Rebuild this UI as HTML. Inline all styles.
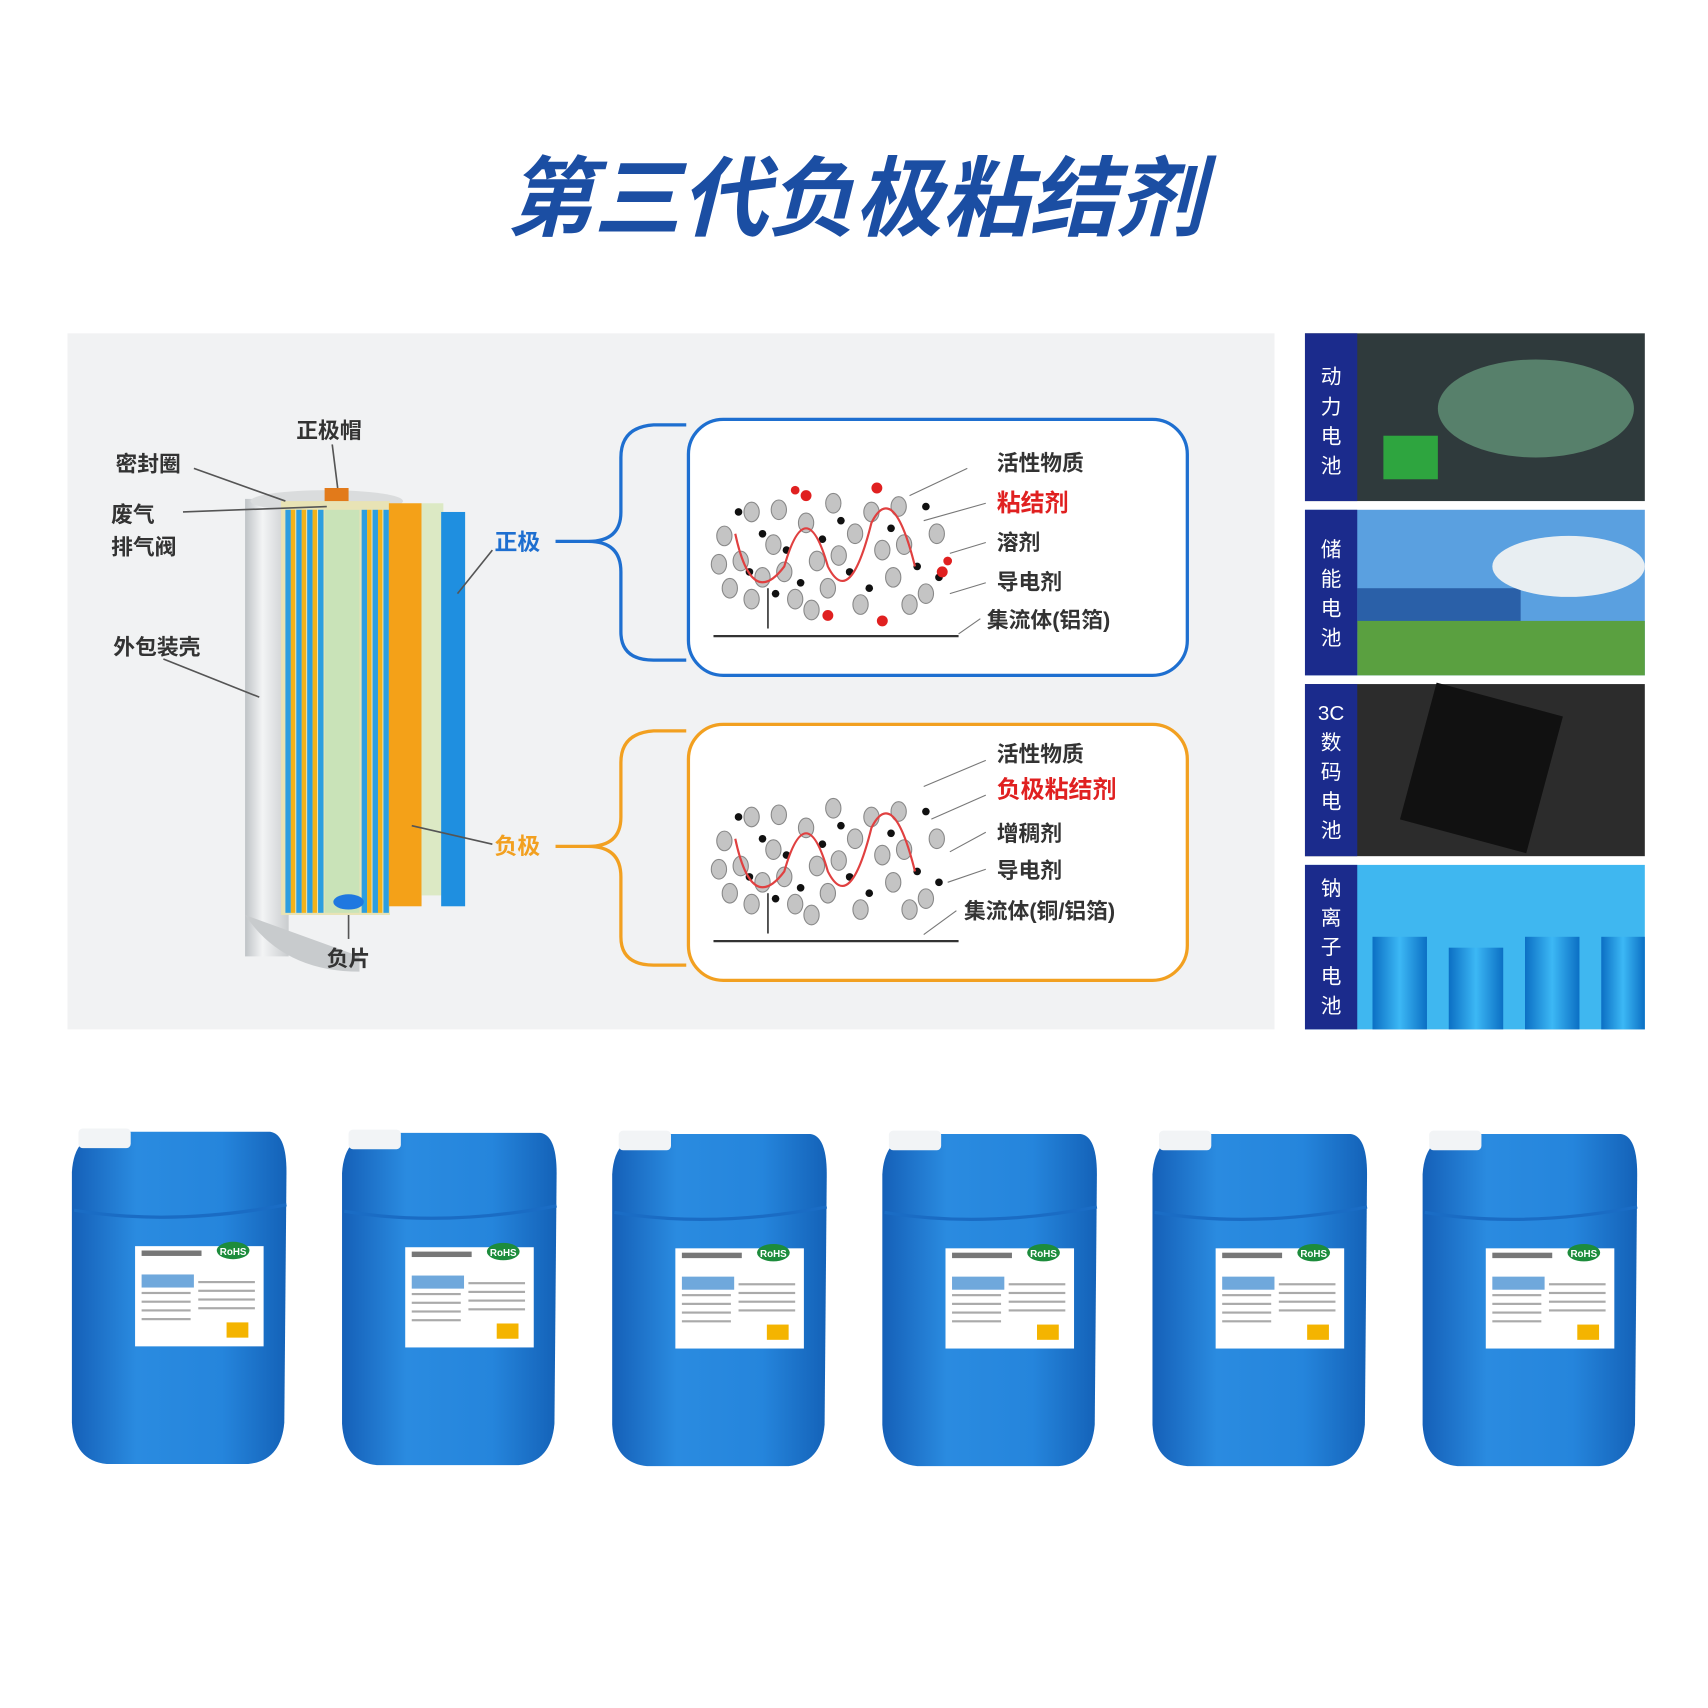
<!DOCTYPE html>
<html><head><meta charset="utf-8"><style>
html,body{margin:0;padding:0;background:#fff;width:1708px;height:1708px;overflow:hidden}
svg{display:block}
text{font-family:"Liberation Sans","Noto Sans CJK SC",sans-serif}
</style></head><body>
<svg width="1708" height="1708" viewBox="0 0 1568 1568" xmlns="http://www.w3.org/2000/svg">
<defs>
<linearGradient id="cyl" x1="0" x2="1"><stop offset="0" stop-color="#bfc3c6"/><stop offset="0.4" stop-color="#f3f4f5"/><stop offset="1" stop-color="#c9ccce"/></linearGradient>
<linearGradient id="jug" x1="0" x2="1"><stop offset="0" stop-color="#1560b8"/><stop offset="0.3" stop-color="#2a8be0"/><stop offset="0.7" stop-color="#2585dc"/><stop offset="1" stop-color="#1462b8"/></linearGradient>
<linearGradient id="cell" x1="0" x2="1"><stop offset="0" stop-color="#0b6fc4"/><stop offset="0.5" stop-color="#3cb8f5"/><stop offset="1" stop-color="#0b6fc4"/></linearGradient>
<g id="J">
<path d="M8 40 Q10 5 40 3 L190 3 Q205 5 205 40 L203 270 Q200 305 170 308 L40 308 Q10 305 8 270 Z" fill="url(#jug)"/>
<path d="M10 75 Q100 90 205 70" stroke="#1a6cc4" stroke-width="3" fill="none"/>
<rect x="14" y="0" width="48" height="18" rx="4" fill="#f2f4f6"/>
<rect x="66" y="108" width="118" height="92" fill="#fff"/>
<rect x="72" y="134" width="48" height="12" fill="#6fa8dc"/>
<g fill="#aaa"><rect x="72" y="150" width="45" height="2"/><rect x="72" y="158" width="45" height="2"/><rect x="72" y="166" width="45" height="2"/><rect x="72" y="174" width="45" height="2"/><rect x="124" y="140" width="52" height="2"/><rect x="124" y="148" width="52" height="2"/><rect x="124" y="156" width="52" height="2"/><rect x="124" y="164" width="52" height="2"/></g>
<rect x="72" y="112" width="55" height="5" fill="#777"/>
<ellipse cx="156" cy="112" rx="15" ry="8" fill="#1d8c3c"/>
<text x="156" y="116" font-size="9" fill="#fff" text-anchor="middle" font-weight="bold">RoHS</text>
<rect x="150" y="178" width="20" height="14" fill="#f4b400"/>
</g>
<g id="P">
<g fill="#c4c4c4" stroke="#888" stroke-width="1">
<ellipse cx="665" cy="492" rx="7" ry="9"/><ellipse cx="690" cy="470" rx="7" ry="9"/><ellipse cx="710" cy="500" rx="7" ry="9"/><ellipse cx="740" cy="480" rx="7" ry="9"/><ellipse cx="770" cy="510" rx="7" ry="9"/><ellipse cx="800" cy="470" rx="7" ry="9"/><ellipse cx="830" cy="500" rx="7" ry="9"/><ellipse cx="860" cy="490" rx="7" ry="9"/><ellipse cx="670" cy="540" rx="7" ry="9"/><ellipse cx="700" cy="530" rx="7" ry="9"/><ellipse cx="730" cy="550" rx="7" ry="9"/><ellipse cx="760" cy="540" rx="7" ry="9"/><ellipse cx="790" cy="555" rx="7" ry="9"/><ellipse cx="820" cy="530" rx="7" ry="9"/><ellipse cx="850" cy="545" rx="7" ry="9"/><ellipse cx="680" cy="515" rx="7" ry="9"/><ellipse cx="750" cy="515" rx="7" ry="9"/><ellipse cx="810" cy="505" rx="7" ry="9"/>
<ellipse cx="715" cy="468" rx="7" ry="9"/><ellipse cx="765" cy="462" rx="7" ry="9"/><ellipse cx="825" cy="465" rx="7" ry="9"/><ellipse cx="690" cy="550" rx="7" ry="9"/><ellipse cx="745" cy="560" rx="7" ry="9"/><ellipse cx="835" cy="555" rx="7" ry="9"/><ellipse cx="720" cy="525" rx="7" ry="9"/><ellipse cx="785" cy="490" rx="7" ry="9"/><ellipse cx="660" cy="518" rx="7" ry="9"/>
</g>
<g fill="#111"><circle cx="678" cy="470" r="3.5"/><circle cx="700" cy="490" r="3.5"/><circle cx="722" cy="505" r="3.5"/><circle cx="755" cy="495" r="3.5"/><circle cx="735" cy="535" r="3.5"/><circle cx="780" cy="525" r="3.5"/><circle cx="798" cy="540" r="3.5"/><circle cx="842" cy="520" r="3.5"/><circle cx="850" cy="465" r="3.5"/><circle cx="712" cy="545" r="3.5"/><circle cx="772" cy="478" r="3.5"/><circle cx="862" cy="530" r="3.5"/><circle cx="688" cy="525" r="3.5"/><circle cx="818" cy="485" r="3.5"/></g>
<path d="M675 490 Q690 560 720 520 Q740 450 760 520 Q780 560 800 480 Q820 440 840 520" stroke="#e04040" stroke-width="2" fill="none"/>
<path d="M705 540 L705 577" stroke="#333" stroke-width="1.5"/>
</g>
</defs>
<text x="785" y="210" font-size="80" font-weight="bold" font-style="italic" fill="#1b4ea3" text-anchor="middle">第三代负极粘结剂</text>
<rect x="62" y="306" width="1108" height="639" fill="#f1f2f3"/>
<!-- battery -->
<rect x="225" y="458" width="40" height="420" fill="url(#cyl)"/>
<path d="M225 840 Q260 892 330 892 L330 878 L225 840Z" fill="#c8cbcd"/>
<ellipse cx="300" cy="460" rx="70" ry="10" fill="#dadcdd"/>
<rect x="258" y="460" width="100" height="380" fill="#e8e3b5"/>
<g fill="#2c9ee0"><rect x="262" y="468" width="5" height="370"/><rect x="272" y="468" width="5" height="370"/><rect x="282" y="468" width="5" height="370"/><rect x="292" y="468" width="5" height="370"/><rect x="332" y="468" width="5" height="370"/><rect x="342" y="468" width="5" height="370"/><rect x="352" y="468" width="5" height="370"/></g>
<g fill="#f2b21a"><rect x="267" y="468" width="4" height="370"/><rect x="277" y="468" width="4" height="370"/><rect x="287" y="468" width="4" height="370"/><rect x="337" y="468" width="4" height="370"/><rect x="347" y="468" width="4" height="370"/></g>
<rect x="298" y="468" width="32" height="370" fill="#c9e3b8"/>
<rect x="357" y="462" width="30" height="370" fill="#f4a118"/>
<rect x="387" y="462" width="20" height="360" fill="#dce9c4"/>
<rect x="405" y="470" width="22" height="362" fill="#1f8fe0"/>
<rect x="298" y="448" width="22" height="12" fill="#e27a1a"/>
<ellipse cx="320" cy="828" rx="14" ry="7" fill="#1f78e0"/>
<g stroke="#555" stroke-width="1.5" fill="none">
<line x1="178" y1="430" x2="262" y2="460"/><line x1="168" y1="470" x2="300" y2="465"/><line x1="305" y1="408" x2="310" y2="448"/>
<line x1="150" y1="605" x2="238" y2="640"/><line x1="320" y1="840" x2="320" y2="862"/><line x1="452" y1="505" x2="420" y2="545"/><line x1="452" y1="775" x2="378" y2="758"/>
</g>
<g font-size="20" font-weight="bold" fill="#333">
<text x="272" y="402">正极帽</text><text x="106" y="433">密封圈</text><text x="102" y="479">废气</text><text x="102" y="509">排气阀</text><text x="104" y="601">外包装壳</text><text x="300" y="887">负片</text>
</g>
<text x="454" y="505" font-size="21" font-weight="bold" fill="#1e6fd0">正极</text>
<text x="454" y="784" font-size="21" font-weight="bold" fill="#f2a020">负极</text>
<path d="M630 390 L600 390 Q570 392 570 420 L570 470 Q570 497 540 497 L510 497 L540 497 Q570 497 570 525 L570 580 Q570 606 600 606 L630 606" stroke="#1e6fd0" stroke-width="3" fill="none"/>
<path d="M630 671 L600 671 Q570 673 570 700 L570 750 Q570 777 540 777 L510 777 L540 777 Q570 777 570 805 L570 860 Q570 886 600 886 L630 886" stroke="#f2a020" stroke-width="3" fill="none"/>
<rect x="632" y="385" width="458" height="235" rx="32" fill="#fff" stroke="#1e6fd0" stroke-width="3"/>
<rect x="632" y="665" width="458" height="235" rx="32" fill="#fff" stroke="#f2a020" stroke-width="3"/>
<use href="#P"/>
<use href="#P" y="280"/>
<g fill="#e02020"><circle cx="740" cy="455" r="5"/><circle cx="805" cy="448" r="5"/><circle cx="865" cy="525" r="5"/><circle cx="810" cy="570" r="5"/><circle cx="760" cy="565" r="5"/><circle cx="730" cy="450" r="4"/><circle cx="870" cy="515" r="4"/></g>
<line x1="655" y1="584" x2="880" y2="584" stroke="#333" stroke-width="2"/>
<line x1="655" y1="864" x2="880" y2="864" stroke="#333" stroke-width="2"/>
<g stroke="#777" stroke-width="1" fill="none">
<line x1="888" y1="430" x2="835" y2="455"/><line x1="905" y1="462" x2="848" y2="478"/><line x1="905" y1="498" x2="872" y2="508"/><line x1="905" y1="535" x2="872" y2="545"/><line x1="900" y1="568" x2="880" y2="582"/>
<line x1="905" y1="698" x2="848" y2="722"/><line x1="905" y1="730" x2="855" y2="752"/><line x1="905" y1="764" x2="872" y2="782"/><line x1="905" y1="798" x2="870" y2="810"/><line x1="878" y1="836" x2="848" y2="858"/>
</g>
<g font-size="20" font-weight="bold" fill="#333">
<text x="915" y="432">活性物质</text><text x="915" y="505">溶剂</text><text x="915" y="541">导电剂</text><text x="906" y="576">集流体(铝箔)</text>
<text x="915" y="699">活性物质</text><text x="915" y="772">增稠剂</text><text x="915" y="806">导电剂</text><text x="885" y="843">集流体(铜/铝箔)</text>
</g>
<text x="915" y="469" font-size="22" font-weight="bold" fill="#e02020">粘结剂</text>
<text x="915" y="732" font-size="22" font-weight="bold" fill="#e02020">负极粘结剂</text>
<!-- right images -->
<rect x="1198" y="306" width="312" height="154" fill="#2f3a3c"/><ellipse cx="1410" cy="375" rx="90" ry="45" fill="#7fc59a" opacity="0.5"/><rect x="1270" y="400" width="50" height="40" fill="#2ec040" opacity="0.8"/>
<rect x="1198" y="468" width="312" height="152" fill="#5aa0e0"/><rect x="1246" y="540" width="150" height="40" fill="#2a60a8"/><rect x="1246" y="570" width="264" height="50" fill="#5aa040"/><ellipse cx="1440" cy="520" rx="70" ry="28" fill="#e8eef2"/>
<rect x="1198" y="628" width="312" height="158" fill="#2c2c2c"/><rect x="1300" y="640" width="120" height="130" fill="#111" transform="rotate(15 1360 705)"/>
<rect x="1198" y="794" width="312" height="151" fill="#3fb7f0"/>
<g fill="url(#cell)"><rect x="1260" y="860" width="50" height="85"/><rect x="1330" y="870" width="50" height="75"/><rect x="1400" y="860" width="50" height="85"/><rect x="1470" y="860" width="40" height="85"/></g>
<g fill="#1b2b8c"><rect x="1198" y="306" width="48" height="154"/><rect x="1198" y="468" width="48" height="152"/><rect x="1198" y="628" width="48" height="158"/><rect x="1198" y="794" width="48" height="151"/></g>
<g font-size="19" fill="#fff" text-anchor="middle">
<text x="1222" y="352">动</text><text x="1222" y="380">力</text><text x="1222" y="407">电</text><text x="1222" y="434">池</text>
<text x="1222" y="511">储</text><text x="1222" y="538">能</text><text x="1222" y="565">电</text><text x="1222" y="592">池</text>
<text x="1222" y="661">3C</text><text x="1222" y="688">数</text><text x="1222" y="715">码</text><text x="1222" y="742">电</text><text x="1222" y="769">池</text>
<text x="1222" y="822">钠</text><text x="1222" y="849">离</text><text x="1222" y="876">子</text><text x="1222" y="903">电</text><text x="1222" y="930">池</text>
</g>
<use href="#J" x="58" y="1036"/><use href="#J" x="306" y="1037"/><use href="#J" x="554" y="1038"/><use href="#J" x="802" y="1038"/><use href="#J" x="1050" y="1038"/><use href="#J" x="1298" y="1038"/>
</svg>
</body></html>
